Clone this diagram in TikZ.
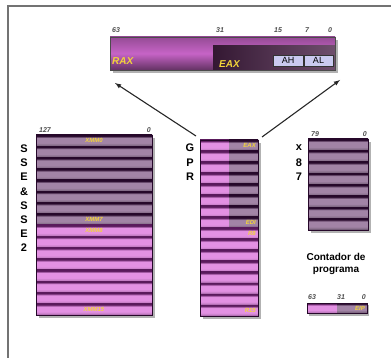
\documentclass[tikz,border=0pt]{standalone}
\usepackage{fontspec}
\setmainfont{Liberation Sans}
\usetikzlibrary{positioning}

\definecolor{regpink}{HTML}{E391E3}
\definecolor{pinkline}{HTML}{5A1A5C}
\definecolor{regdark}{HTML}{A284A6}
\definecolor{darkline}{HTML}{26082A}
\definecolor{raxcol}{HTML}{C664C6}
\definecolor{eaxcol}{HTML}{4A2248}
\definecolor{bytecol}{HTML}{CACAF0}
\definecolor{labyellow}{HTML}{F2D43A}

\pgfdeclareverticalshading{pinkband}{100bp}{color(0bp)=(pinkline); color(25bp)=(pinkline); color(30bp)=(regpink!85!black); color(40bp)=(regpink); color(62bp)=(regpink); color(71bp)=(pinkline); color(100bp)=(pinkline)}
\pgfdeclareverticalshading{darkband}{100bp}{color(0bp)=(darkline); color(25bp)=(darkline); color(30bp)=(regdark!80!black); color(40bp)=(regdark); color(62bp)=(regdark); color(71bp)=(darkline); color(100bp)=(darkline)}

\tikzset{
  pinkrow/.style={shading=pinkband},
  darkrow/.style={shading=darkband},
  shadowbox/.style={fill=black!30},
  bitnum/.style={font=\fontsize{7}{7}\selectfont\bfseries\itshape, text=black!70, inner sep=0pt},
  reglab/.style={font=\fontsize{6}{6}\selectfont\bfseries\itshape, text=labyellow, inner sep=0pt},
  sidelet/.style={font=\fontsize{11}{11}\selectfont\bfseries, inner sep=0pt}
}

\begin{document}
\begin{tikzpicture}[x=1pt,y=-1pt]
\useasboundingbox (0,0) rectangle (391,358);

% frame
\draw[black!55, line width=1.2pt] (7,6)--(391,6);
\draw[black!55, line width=1.8pt] (8,6)--(8,358);

% RAX bar
\fill[shadowbox] (113,40) rectangle (338,73);
\shade[top color=raxcol!75!black, bottom color=raxcol!50!black, middle color=raxcol] (110,37) rectangle (335,70);
\shade[left color=eaxcol!70!black, right color=eaxcol!80!white] (213,46) rectangle (335,70);
\draw[black!70, line width=0.6pt] (110,37) rectangle (335,70);
\node[draw=black!80, fill=bytecol, minimum width=30pt, minimum height=11pt, inner sep=0pt, font=\fontsize{9}{9}\selectfont] (ah) at (288,60.5) {AH};
\node[draw=black!80, fill=bytecol, minimum width=29pt, minimum height=11pt, inner sep=0pt, font=\fontsize{9}{9}\selectfont] (al) at (318.5,60.5) {AL};
\node[bitnum, anchor=west] (b63) at (112,30) {63};
\node[bitnum, anchor=west] (b31) at (216,30) {31};
\node[bitnum, anchor=west] (b15) at (274,30) {15};
\node[bitnum, anchor=west] (b7) at (305,30) {7};
\node[bitnum, anchor=west] (b0) at (328,30) {0};
\node[font=\fontsize{10}{10}\selectfont\bfseries\itshape, text=labyellow, anchor=west, inner sep=0pt] (rax) at (112,61) {RAX};
\node[font=\fontsize{10}{10}\selectfont\bfseries\itshape, text=labyellow, anchor=west, inner sep=0pt] (eax) at (219,64) {EAX};

% arrows
\coordinate (gprL) at (196,136);
\coordinate (gprR) at (262,137);
\coordinate (raxL) at (115,83);
\coordinate (raxR) at (340,80);
\draw[->, >=latex, line width=1.1pt, black!85] (gprL) -- (raxL);
\draw[->, >=latex, line width=1.1pt, black!85] (gprR) -- (raxR);

% SSE / SSE2 registers
\fill[shadowbox] (39,138) rectangle (155,318);
\foreach \i in {0,...,7}
  \shade[darkrow] (36,135+11.25*\i) rectangle (152,135+11.25*\i+11.25);
\foreach \i in {8,...,15}
  \shade[pinkrow] (36,135+11.25*\i) rectangle (152,135+11.25*\i+11.25);
\draw[darkline, line width=0.6pt] (36,135) rectangle (152,315);
\node[bitnum, anchor=west] (x127) at (39,130) {127};
\node[bitnum, anchor=east] (x0) at (151,130) {0};
\node[reglab] (xmm0) at (94,140.6) {XMM0};
\node[reglab] (xmm7) at (94,219.4) {XMM7};
\node[reglab] (xmm8) at (94,230.6) {XMM8};
\node[reglab] (xmm15) at (94,309.4) {XMM15};
\foreach \t [count=\k from 0] in {S,S,E,\&,S,S,E,2}
  \node[sidelet] (sse\k) at (24,149+14.1*\k) {\t};

% GPR registers
\fill[shadowbox] (203,143) rectangle (261,319);
\foreach \i in {0,...,15}
  \shade[pinkrow] (200,140+11*\i) rectangle (229,151+11*\i);
\foreach \i in {0,...,7}
  \shade[darkrow] (229,140+11*\i) rectangle (258,151+11*\i);
\foreach \i in {8,...,15}
  \shade[pinkrow] (229,140+11*\i) rectangle (258,151+11*\i);
\draw[darkline, line width=0.6pt] (200,140) rectangle (258,316);
\node[reglab, anchor=east] (reax) at (256,145.5) {EAX};
\node[reglab, anchor=east] (redi) at (256,222.5) {EDI};
\node[reglab, anchor=east] (rr8) at (256,233.5) {R8};
\node[reglab, anchor=east] (rr15) at (256,310.5) {R15};
\foreach \t [count=\k from 0] in {G,P,R}
  \node[sidelet] (gpr\k) at (190,148+14.5*\k) {\t};

% x87 registers
\fill[shadowbox] (311,142) rectangle (371,233);
\foreach \i in {0,...,7}
  \shade[darkrow] (308,139+11.375*\i) rectangle (368,139+11.375*\i+11.375);
\draw[darkline, line width=0.6pt] (308,139) rectangle (368,230);
\node[bitnum, anchor=west] (f79) at (311,134) {79};
\node[bitnum, anchor=east] (f0) at (367,134) {0};
\foreach \t [count=\k from 0] in {x,8,7}
  \node[sidelet] (fpu\k) at (299,148+14.5*\k) {\t};

% program counter
\node[font=\fontsize{10}{12}\selectfont\bfseries, align=center, inner sep=0pt] (pclab) at (336,264) {Contador de\\programa};
\fill[shadowbox] (309,305) rectangle (369,316);
\shade[pinkrow] (307,303) rectangle (337,313);
\shade[darkrow] (337,303) rectangle (367,313);
\draw[darkline, line width=0.6pt] (307,303) rectangle (367,313);
\node[bitnum, anchor=west] (p63) at (308,297.5) {63};
\node[bitnum, anchor=west] (p31) at (337,297.5) {31};
\node[bitnum, anchor=east] (p0) at (366,297.5) {0};
\node[reglab, anchor=east] (eip) at (365,308) {EIP};

\end{tikzpicture}
\end{document}
